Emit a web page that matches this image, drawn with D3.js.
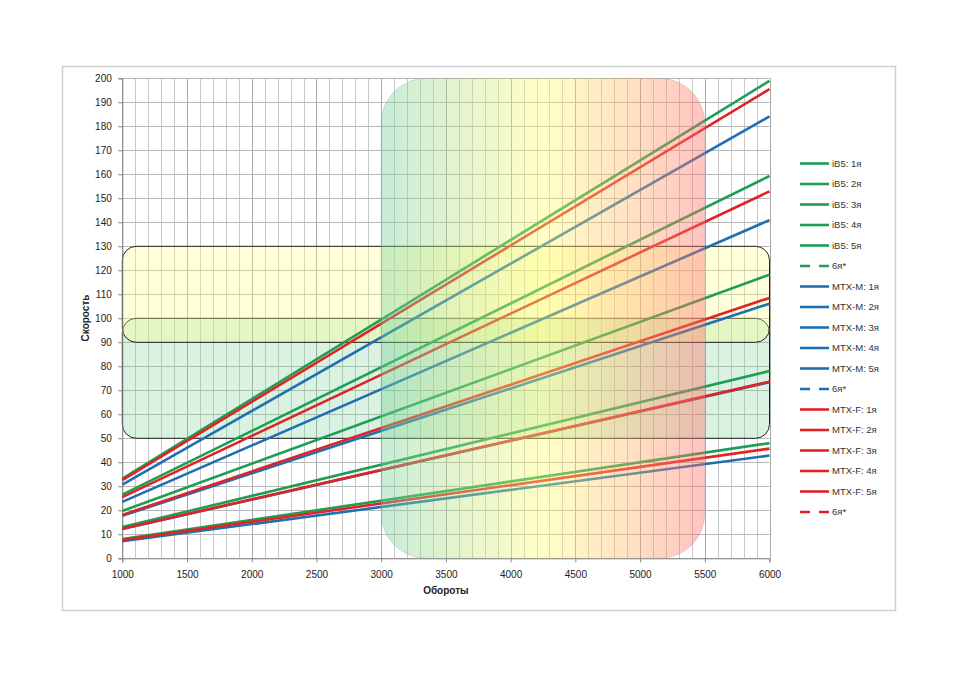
<!DOCTYPE html>
<html><head><meta charset="utf-8">
<script src="https://cdn.jsdelivr.net/npm/d3@7"></script>
<style>body{margin:0;background:#fff}svg{display:block}text{font-family:"Liberation Sans",Arial,sans-serif}</style>
</head><body>
<script>
// ---- data ----
const rpm = [1000, 6000];
const xTicks = [1000,1500,2000,2500,3000,3500,4000,4500,5000,5500,6000];
const yTicks = d3.range(0, 201, 10);
const ib5_1 = [8.0, 48.0];
const ib5_2 = [13.0, 78.0];
const ib5_3 = [19.7, 118.2];
const ib5_4 = [26.5, 159.3];
const ib5_5 = [33.2, 198.9];
const mtxm_1 = [7.1, 42.8];
const mtxm_2 = [12.2, 73.4];
const mtxm_3 = [17.7, 106.1];
const mtxm_4 = [23.5, 140.9];
const mtxm_5 = [30.7, 184.1];
const mtxf_1 = [7.6, 45.7];
const mtxf_2 = [12.3, 73.6];
const mtxf_3 = [18.1, 108.5];
const mtxf_4 = [25.5, 152.9];
const mtxf_5 = [32.6, 195.5];
const empty6 = [];
const seriesNames = ["iB5: 1я","iB5: 2я","iB5: 3я","iB5: 4я","iB5: 5я","6я*",
  "MTX-M: 1я","MTX-M: 2я","MTX-M: 3я","MTX-M: 4я","MTX-M: 5я","6я*",
  "MTX-F: 1я","MTX-F: 2я","MTX-F: 3я","MTX-F: 4я","MTX-F: 5я","6я*"];
const seriesValues = [ib5_1,ib5_2,ib5_3,ib5_4,ib5_5,empty6,
  mtxm_1,mtxm_2,mtxm_3,mtxm_4,mtxm_5,empty6,
  mtxf_1,mtxf_2,mtxf_3,mtxf_4,mtxf_5,empty6];
const seriesGroup = [0,0,0,0,0,0,1,1,1,1,1,1,2,2,2,2,2,2];
const seriesDashed = [0,0,0,0,0,1,0,0,0,0,0,1,0,0,0,0,0,1];
// zones
const rpmZone = [3000, 5500];
const speedZoneYellow = [90, 130];
const speedZoneGreen = [50, 100];

// ---- drawing ----
const W = 960, H = 679;
const colors = ["#1f9d55", "#1f6fb2", "#e02426"];
const svg = d3.select("body").append("svg").attr("width", W).attr("height", H);
const x = d3.scaleLinear().domain([1000, 6000]).range([122.3, 769.5]);
const y = d3.scaleLinear().domain([0, 200]).range([558.3, 78.3]);

// frame
svg.append("rect").attr("x", 62.5).attr("y", 66.5).attr("width", 833).attr("height", 544)
  .attr("fill", "#fff").attr("stroke", "#cfcfcf").attr("stroke-width", 1.5);

const defs = svg.append("defs");
const g1 = defs.append("linearGradient").attr("id", "rpmGrad").attr("x1", "0").attr("x2", "1").attr("y1", "0").attr("y2", "0");
[["0%","#74d09a"],["25%","#c0e482"],["50%","#ffff70"],["75%","#ffba6a"],["100%","#ff6a66"]]
  .forEach(s => g1.append("stop").attr("offset", s[0]).attr("stop-color", s[1]));

// grid
const grid = svg.append("g");
grid.selectAll(".vx").data(d3.range(1000, 6001, 100)).join("line")
  .attr("x1", d => Math.round(x(d)) + 0.5).attr("x2", d => Math.round(x(d)) + 0.5)
  .attr("y1", y(200)).attr("y2", y(0))
  .attr("stroke", d => d % 500 === 0 ? "#a8a8a8" : "#c8c8c8").attr("stroke-width", 1);
grid.selectAll(".hy").data(yTicks).join("line")
  .attr("y1", d => Math.round(y(d)) + 0.5).attr("y2", d => Math.round(y(d)) + 0.5)
  .attr("x1", x(1000)).attr("x2", x(6000))
  .attr("stroke", "#b8b8b8").attr("stroke-width", 1);

// speed zones (below lines)
svg.append("rect").attr("x", x(1000)).attr("y", y(speedZoneGreen[1]))
  .attr("width", x(6000) - x(1000)).attr("height", y(speedZoneGreen[0]) - y(speedZoneGreen[1]))
  .attr("rx", 14).attr("fill", "#66cc88").attr("fill-opacity", 0.25)
  .attr("stroke", "#222").attr("stroke-width", 1);
svg.append("rect").attr("x", x(1000)).attr("y", y(speedZoneYellow[1]))
  .attr("width", x(6000) - x(1000)).attr("height", y(speedZoneYellow[0]) - y(speedZoneYellow[1]))
  .attr("rx", 14).attr("fill", "#ffff80").attr("fill-opacity", 0.3)
  .attr("stroke", "#222").attr("stroke-width", 1);

// axes
const xAxis = d3.axisBottom(x).tickValues(xTicks).tickSize(4).tickFormat(d3.format("d"));
const yAxis = d3.axisLeft(y).tickValues(yTicks).tickSize(4);
const gx = svg.append("g").attr("transform", `translate(0,${y(0)})`).call(xAxis);
const gy = svg.append("g").attr("transform", `translate(${x(1000)},0)`).call(yAxis);
[gx, gy].forEach(g => {
  g.select(".domain").attr("stroke", "#868686");
  g.selectAll(".tick line").attr("stroke", "#868686");
  g.selectAll("text").attr("fill", "#222").style("font-size", "10px");
});
gx.selectAll("text").attr("dy", "1.25em");
gy.selectAll("text").attr("dx", "-0.35em");

// lines
const line = d3.line().x((d, i) => x(rpm[i])).y(d => y(d));
const lg = svg.append("g");
seriesValues.forEach((vals, i) => {
  if (!vals.length) return;
  lg.append("path").datum(vals).attr("d", line).attr("fill", "none")
    .attr("stroke", colors[seriesGroup[i]]).attr("stroke-width", 2.6)
    .attr("stroke-dasharray", seriesDashed[i] ? "11,7" : null);
});

// rpm zone overlay (on top)
svg.append("rect").attr("x", x(rpmZone[0])).attr("y", y(200))
  .attr("width", x(rpmZone[1]) - x(rpmZone[0])).attr("height", y(0) - y(200))
  .attr("rx", 45).attr("fill", "url(#rpmGrad)").attr("fill-opacity", 0.4)
  .attr("stroke", "#999").attr("stroke-opacity", 0.3);

// axis titles
svg.append("text").attr("x", (x(1000) + x(6000)) / 2).attr("y", 594).attr("text-anchor", "middle")
  .style("font-size", "10px").style("font-weight", "bold").attr("fill", "#222").text("Обороты");
svg.append("text").attr("transform", "translate(89,318) rotate(-90)").attr("text-anchor", "middle")
  .style("font-size", "10px").style("font-weight", "bold").attr("fill", "#222").text("Скорость");

// legend
const leg = svg.append("g");
seriesNames.forEach((name, i) => {
  const ly = 163.5 + i * 20.5;
  leg.append("line").attr("x1", 800).attr("x2", 829).attr("y1", ly).attr("y2", ly)
    .attr("stroke", colors[seriesGroup[i]]).attr("stroke-width", 2.6)
    .attr("stroke-dasharray", seriesDashed[i] ? "10,9" : null);
  leg.append("text").attr("x", 832).attr("y", ly).attr("dy", "0.35em")
    .style("font-size", "9.5px").attr("fill", "#333").text(name);
});
</script>
</body></html>
